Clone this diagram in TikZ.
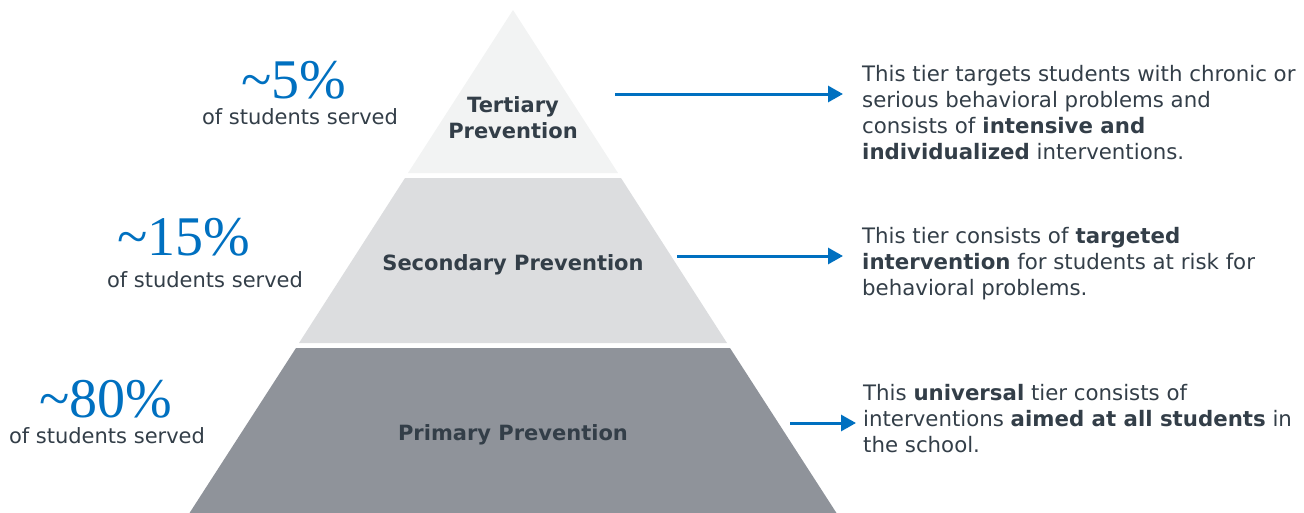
\documentclass[tikz,border=0pt]{standalone}
\usepackage{fontspec}
\setmainfont{DejaVu Sans}
\newfontfamily\pctfont{Liberation Serif}
\usetikzlibrary{arrows.meta}
\definecolor{tierblue}{RGB}{0,112,192}
\definecolor{tiertext}{RGB}{51,62,72}
\definecolor{tierone}{RGB}{242,243,243}
\definecolor{tiertwo}{RGB}{220,221,223}
\definecolor{tierthree}{RGB}{143,147,154}
\tikzset{
  tierlabel/.style={font=\bfseries\fontsize{21}{26}\selectfont,text=tiertext,align=center,inner sep=0pt,anchor=base},
  pct/.style={font=\pctfont\fontsize{56}{60}\selectfont,text=tierblue,inner sep=0pt,anchor=base},
  served/.style={font=\fontsize{21}{26}\selectfont,text=tiertext,inner sep=0pt,anchor=base},
  desc/.style={font=\fontsize{21.3}{26}\selectfont,text=tiertext,align=left,inner sep=0pt,anchor=base west},
  tierarrow/.style={-{Triangle[length=15pt,width=16pt]},line width=3pt,draw=tierblue}
}
\begin{document}
\begin{tikzpicture}[x=1pt,y=-1pt]
\useasboundingbox (0,0) rectangle (1304,512);
\clip (0,0) rectangle (1304,512);
%\fill[white] (0,0) rectangle (1304,512);
\fill[tierone] (513,10) -- (618,173) -- (408,173) -- cycle;
\fill[tiertwo] (405,178) -- (621,178) -- (727,343) -- (299,343) -- cycle;
\fill[tierthree] (296,348) -- (730,348) -- (841,520) -- (185,520) -- cycle;
% base = ultima linea
\path (513,138) node[tierlabel] (tertiary) {Tertiary\\Prevention};
\path (513,270) node[tierlabel] (secondary) {Secondary Prevention};
\path (513,440) node[tierlabel] (primary) {Primary Prevention};
% porcentajes
\path (294,98) node[pct] (pctA) {\textasciitilde5\%};
\path (300,124) node[served] (servedA) {of students served};
\path (184,255) node[pct] (pctB) {\textasciitilde15\%};
\path (205,287) node[served] (servedB) {of students served};
\path (106,417) node[pct] (pctC) {\textasciitilde80\%};
\path (107,443) node[served] (servedC) {of students served};
% descripciones
\path (862,159) node[desc] (descA) {This tier targets students with chronic or\\serious behavioral problems and\\consists of \textbf{intensive and}\\\textbf{individualized} interventions.};
\path (862,295) node[desc] (descB) {This tier consists of \textbf{targeted}\\\textbf{intervention} for students at risk for\\behavioral problems.};
\path (863,452) node[desc] (descC) {This \textbf{universal} tier consists of\\interventions \textbf{aimed at all students} in\\the school.};
\coordinate (arrA) at (615,94);
\coordinate (arrB) at (677,256);
\coordinate (arrC) at (790,423);
\draw[tierarrow,shorten >=19pt] (arrA) -- (arrA -| descA.west);
\draw[tierarrow,shorten >=19pt] (arrB) -- (arrB -| descB.west);
\draw[tierarrow,shorten >=7pt] (arrC) -- (arrC -| descC.west);
\end{tikzpicture}
\end{document}
